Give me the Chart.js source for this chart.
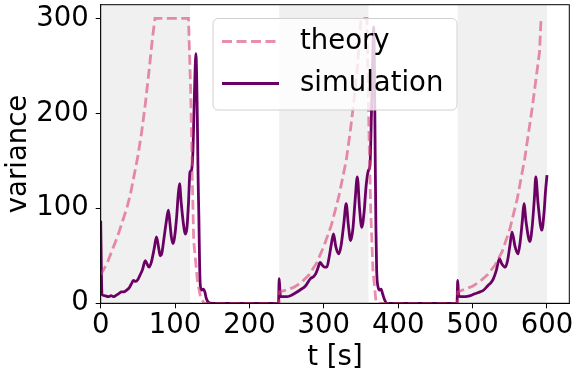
<!DOCTYPE html>
<html>
<head>
<meta charset="utf-8">
<script src="https://cdn.jsdelivr.net/npm/chart.js@4"></script>
<style>
  html, body { margin: 0; padding: 0; background: #fff; }
  #wrap { width: 576px; height: 376px; }
</style>
</head>
<body>
<div id="wrap"><canvas id="varChart" width="576" height="376"></canvas></div>
<script>
// datos
const theoryT = [0, 5, 10, 15, 20, 25, 30, 35, 40, 45, 50, 55, 60, 65, 70, 73, 118, 121, 123, 125, 130, 134, 139,
  240, 240, 250, 260, 270, 280, 290, 300, 310, 320, 330, 335, 340, 345, 350, 358, 361, 363, 366, 370, 373,
  480, 480, 490, 500, 510, 520, 530, 540, 550, 560, 570, 580, 590, 592];
const theoryV = [30, 37, 45, 55, 65, 76, 88, 100, 115, 135, 155, 180, 210, 245, 282, 300, 300, 224, 137, 66, 24, 7, 0,
  0, 12, 14, 17, 22, 30, 42, 60, 82, 112, 150, 178, 210, 248, 300, 300, 168, 98, 35, 3, 0,
  0, 12, 15, 18, 23, 30, 40, 55, 78, 110, 152, 205, 265, 300];

const simT = [0, 1, 2, 5, 10, 14, 17, 20, 24, 28, 31, 35, 38, 41, 44, 47, 50, 53, 56, 60, 62, 65, 68, 72, 75, 78, 80,
  82, 85, 88, 91, 93, 95, 97, 99, 102, 104, 106, 108, 111, 114, 116, 118, 120, 122, 124, 126, 128, 129, 130,
  131, 132, 133, 134, 136, 138, 140, 142, 145, 150,
  239, 240, 241, 242, 250, 255, 260, 268, 275, 282, 286, 289, 292, 295, 298, 301, 304, 307, 310, 313, 316,
  320, 323, 327, 330, 333, 336, 339, 342, 345, 348, 351, 354, 357, 360, 362, 364, 366, 367, 368, 369, 370,
  371, 373, 375, 377, 379, 382, 385,
  479, 480, 481, 483, 486, 490, 497, 503, 510, 515, 521, 525, 528, 532, 536, 539, 544, 547, 550, 553, 557,
  561, 564, 567, 569, 572, 577, 580, 583, 585, 588, 593, 596, 598, 600];
const simV = [87, 30, 9, 8, 7, 8, 7, 8, 10, 12, 12, 14, 16, 20, 24, 23, 25, 30, 35, 45, 42, 38, 43, 58, 70, 58, 50,
  52, 68, 85, 98, 85, 70, 63, 68, 90, 112, 126, 108, 85, 73, 80, 105, 138, 140, 160, 220, 263, 240, 190,
  130, 90, 40, 18, 14, 15, 12, 5, 1, 0,
  0, 26, 12, 7, 7, 8, 10, 14, 18, 26, 28, 31, 37, 43, 40, 38, 38, 48, 62, 73, 60,
  52, 60, 85, 105, 82, 66, 78, 108, 133, 100, 80, 95, 125, 140, 145, 200, 270, 291, 250, 160, 80,
  35, 17, 14, 15, 10, 3, 0,
  0, 24, 10, 7, 7, 7, 8, 10, 12, 14, 19, 22, 26, 35, 47, 42, 38, 45, 60, 75, 60,
  52, 65, 88, 105, 85, 65, 80, 110, 133, 105, 77, 95, 118, 135];

// zonas sombreadas
const shadeStart = [0, 240, 480];
const shadeEnd = [120, 360, 600];

const xTicks = [0, 100, 200, 300, 400, 500, 600];
const yTicks = [0, 100, 200, 300];

const seriesNames = ['theory', 'simulation'];
const theoryColor = 'rgba(218, 66, 118, 0.6)';
const simColor = '#6b0064';
const FONT = 'DejaVu Sans';
const FSIZE = 27.5;

const shadePlugin = {
    id: 'shade',
    beforeDatasetsDraw(chart) {
        const { ctx, chartArea, scales } = chart;
        ctx.save();
        ctx.fillStyle = '#f0f0f0';
        for (let i = 0; i < shadeStart.length; i++) {
            const x0 = scales.x.getPixelForValue(shadeStart[i]);
            const x1 = scales.x.getPixelForValue(shadeEnd[i]);
            ctx.fillRect(x0, chartArea.top, x1 - x0, chartArea.bottom - chartArea.top);
        }
        ctx.restore();
    }
};

// marco y leyenda al estilo matplotlib
const legendPlugin = {
    id: 'boxLegend',
    afterDatasetsDraw(chart) {
        const { ctx, chartArea } = chart;
        ctx.save();
        ctx.strokeStyle = '#000';
        ctx.lineWidth = 1;
        ctx.strokeRect(chartArea.left, chartArea.top, chartArea.right - chartArea.left, chartArea.bottom - chartArea.top);

        const bx = 213, by = 18.5, bw = 244, bh = 91.5, r = 5;
        ctx.beginPath();
        ctx.roundRect(bx, by, bw, bh, r);
        ctx.fillStyle = 'rgba(255,255,255,0.8)';
        ctx.fill();
        ctx.strokeStyle = '#d0d0d0';
        ctx.stroke();

        const rows = [41.5, 83.5];
        chart.data.datasets.forEach((ds, i) => {
            ctx.beginPath();
            ctx.strokeStyle = ds.borderColor;
            ctx.lineWidth = ds.borderWidth;
            ctx.setLineDash(ds.borderDash || []);
            ctx.moveTo(222, rows[i]);
            ctx.lineTo(279, rows[i]);
            ctx.stroke();
            ctx.setLineDash([]);
            ctx.fillStyle = '#000';
            ctx.font = FSIZE + 'px "' + FONT + '"';
            ctx.textBaseline = 'middle';
            ctx.fillText(ds.label, 300, rows[i]);
        });
        ctx.restore();
    }
};

const ctx = document.getElementById('varChart');
new Chart(ctx, {
    type: 'line',
    data: {
        datasets: [{
            label: seriesNames[0],
            data: theoryT.map((t, i) => ({ x: t, y: theoryV[i] })),
            borderColor: theoryColor,
            borderWidth: 2.8,
            borderDash: [10, 4.5],
            pointRadius: 0,
            tension: 0
        }, {
            label: seriesNames[1],
            data: simT.map((t, i) => ({ x: t, y: simV[i] })),
            borderColor: simColor,
            borderWidth: 2.8,
            pointRadius: 0,
            cubicInterpolationMode: 'monotone'
        }]
    },
    options: {
        responsive: false,
        animation: false,
        devicePixelRatio: 1,
        layout: { padding: { left: 0, right: 6.7, top: 4.7, bottom: 0 } },
        plugins: {
            legend: { display: false },
            tooltip: { enabled: false }
        },
        scales: {
            x: {
                type: 'linear',
                min: 0,
                max: 630,
                afterBuildTicks: s => { s.ticks = xTicks.map(v => ({ value: v })); },
                afterFit: s => { s.height = 72.7; s.paddingLeft = 0; s.paddingRight = 0; },
                grid: { drawOnChartArea: false, drawTicks: true, tickLength: 5, tickColor: '#000' },
                border: { display: true, color: '#000' },
                ticks: { color: '#000', font: { family: FONT, size: FSIZE }, padding: 1, maxRotation: 0 },
                title: { display: true, text: 't [s]', color: '#000', font: { family: FONT, size: FSIZE }, padding: { top: 0, bottom: 2 } }
            },
            y: {
                min: 0,
                max: 314.5,
                afterBuildTicks: s => { s.ticks = yTicks.map(v => ({ value: v })); },
                afterFit: s => { s.width = 100.7; s.paddingTop = 0; s.paddingBottom = 0; },
                grid: { drawOnChartArea: false, drawTicks: true, tickLength: 5, tickColor: '#000' },
                border: { display: true, color: '#000' },
                ticks: { color: '#000', font: { family: FONT, size: FSIZE }, padding: 7 },
                title: { display: true, text: 'variance', color: '#000', font: { family: FONT, size: FSIZE }, padding: { top: 2, bottom: 0 } }
            }
        }
    },
    plugins: [shadePlugin, legendPlugin]
});
</script>
</body>
</html>
